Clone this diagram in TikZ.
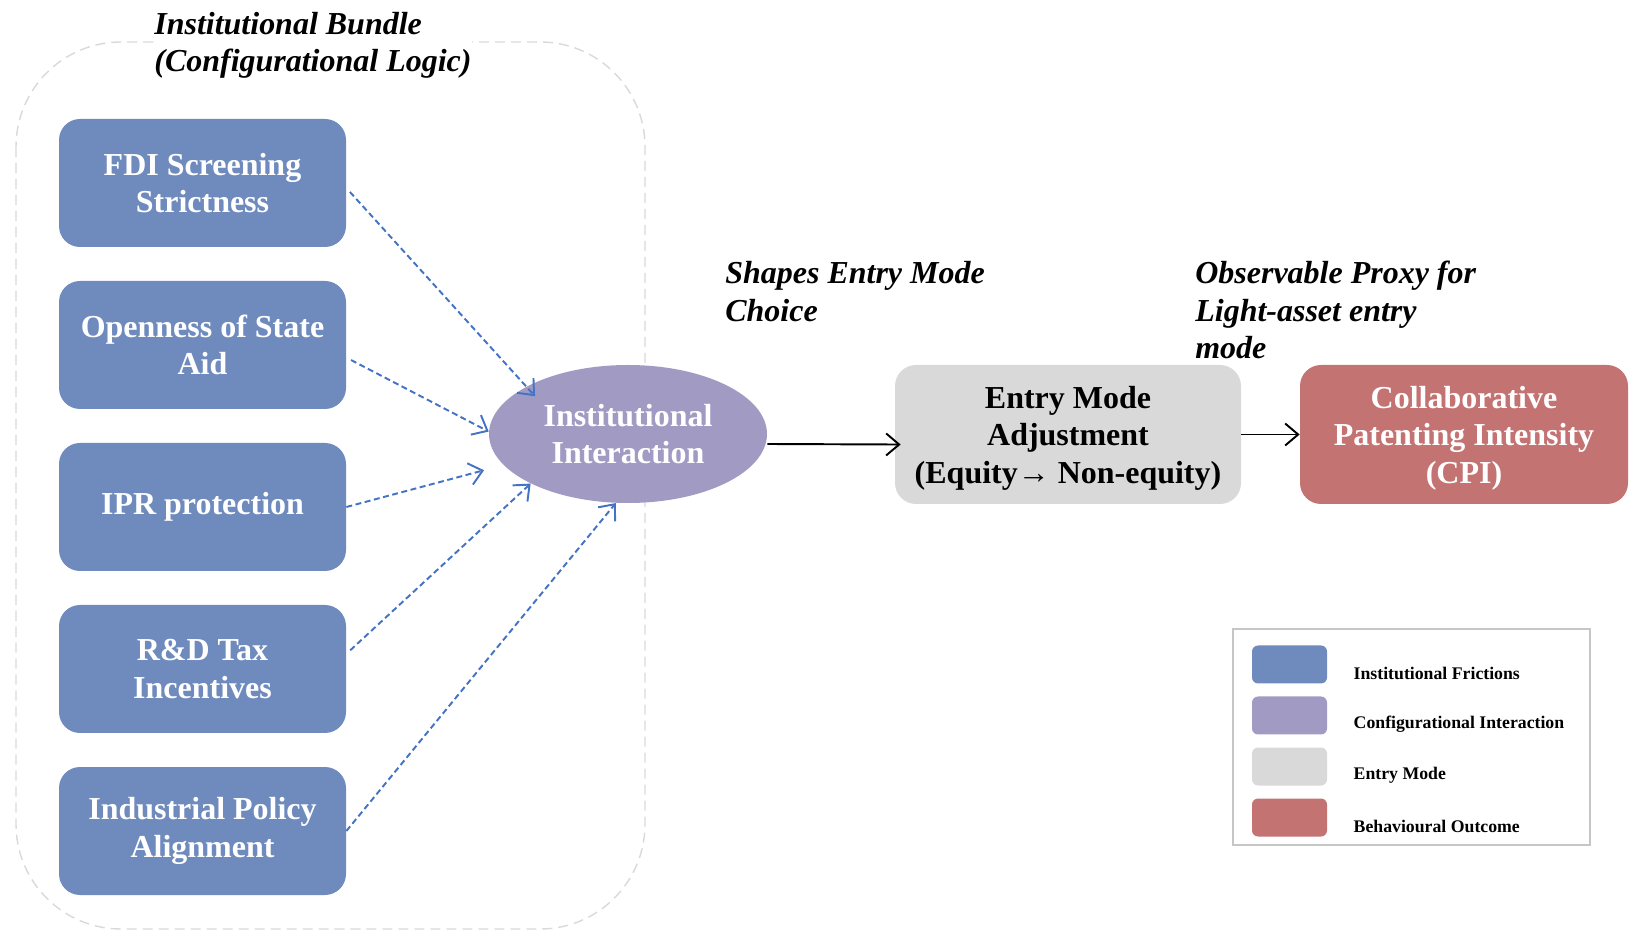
\documentclass[tikz,border=0pt]{standalone}
\usepackage{fontspec}
\setmainfont{Liberation Serif}
\usepackage{tikz}
\usetikzlibrary{shapes.geometric}
\usetikzlibrary{arrows.meta}
\usetikzlibrary{positioning}
\definecolor{fricblue}{RGB}{111,139,189}
\definecolor{interpurple}{RGB}{161,155,196}
\definecolor{modegray}{RGB}{217,217,217}
\definecolor{outred}{RGB}{196,115,115}
\definecolor{linkblue}{RGB}{68,114,196}
\def\boxsep{3.24}
\newcommand{\lowtext}[1]{\raisebox{-0.08cm}[\height][\depth]{\begin{tabular}{@{}c@{}}#1\end{tabular}}}

\begin{document}
\begin{tikzpicture}[>={Straight Barb[length=0.26cm,width=0.44cm]}, font=\bfseries\fontsize{18.2}{21.3}\selectfont]
	\tikzstyle{block}=[rectangle,rounded corners=0.42cm,minimum width=5.74cm,minimum height=2.56cm,inner sep=2pt,align=center,text=white]
	\tikzstyle{friction}=[block, fill=fricblue];
	\tikzstyle{mode}=[block, fill=modegray, text=black, minimum width=6.92cm, minimum height=2.78cm];
	\tikzstyle{outcome}=[block, fill=outred, minimum width=6.56cm, minimum height=2.78cm];
	\tikzstyle{interact}=[ellipse, fill=interpurple, text=white, minimum width=5.56cm, minimum height=2.76cm, inner sep=0pt, align=center];
	\tikzstyle{link}=[->, draw=linkblue, line width=1.1pt, dash pattern=on 3.4pt off 2pt];
	\tikzstyle{flow}=[->, draw=black, line width=1.1pt];
	\tikzstyle{annot}=[font=\bfseries\itshape\fontsize{18.2}{21.3}\selectfont, align=left, anchor=west, inner sep=0pt];
	\tikzstyle{swatch}=[rectangle, rounded corners=0.12cm, minimum width=1.5cm, minimum height=0.76cm, inner sep=0pt];
	\tikzstyle{legtext}=[font=\bfseries\fontsize{10.1}{12}\selectfont, anchor=west, inner sep=0pt];

	\useasboundingbox (0,0) rectangle (32.64,-18.66);

	% Draw the institutional bundle
	\draw[gray!30, line width=0.8pt, dash pattern=on 5.7pt off 3.4pt, rounded corners=2.1cm]
	(0.32,-0.84) rectangle (12.9,-18.58);
	\node[annot, fill=white] (bundle) at (3.08,-0.91) {Institutional Bundle\\(Configurational Logic)};

	% Draw the friction nodes
	\foreach \name / \txt in {1/{FDI Screening\\Strictness}, 2/{Openness of State\\Aid}, 3/{IPR protection}, 4/{R\&D Tax\\Incentives}, 5/{Industrial Policy\\Alignment}}
	\node[friction] (F-\name) at (4.05,{-0.42-\boxsep*\name}) {\txt};

	% Draw the chain
	\node[interact] (II) at (12.56,-8.68) {Institutional\\Interaction};
	\node[mode] (EM) at (21.36,-8.69) {\lowtext{Entry Mode\\Adjustment\\(Equity→ Non-equity)}};
	\node[outcome] (CPI) at (29.28,-8.69) {\lowtext{Collaborative\\Patenting Intensity\\(CPI)}};

	% Connect frictions
	\draw[link, shorten <=3pt, shorten >=-0.26cm] (F-1.-2) -- (II.155);
	\draw[link, shorten <=3pt] (F-2.-5) -- (II.179);
	\draw[link, shorten >=0.4cm] (F-3.east) -- (II.194);
	\draw[link, shorten <=3pt] (F-4.6) -- (II.207);
	\draw[link] (F-5.east) -- (II.260);

	% Connect chain
	\draw[flow, shorten >=-0.12cm] ([yshift=-0.2cm]II.east) -- ([yshift=-0.2cm]EM.west);
	\draw[flow] (EM.east) -- (CPI.west);

	% Annotate the links
	\node[annot] (shapes) at (14.5,-5.83) {Shapes Entry Mode\\Choice};
	\node[annot] (proxy) at (23.9,-6.2) {Observable Proxy for\\Light-asset entry\\mode};

	% Draw the legend
	\draw[gray!45, line width=0.85pt] (24.66,-12.58) rectangle (31.8,-16.9);
	\foreach \name / \col / \txt in {1/fricblue/Institutional Frictions, 2/interpurple/Configurational Interaction, 3/modegray/Entry Mode, 4/outred/Behavioural Outcome}
	{
	\node[swatch, fill=\col] (L-\name) at (25.79,{-12.27-1.02*\name}) {};
	\node[legtext] (T-\name) at ([xshift=0.52cm,yshift=-0.17cm]L-\name.east) {\txt};
	}

\end{tikzpicture}
\end{document}
